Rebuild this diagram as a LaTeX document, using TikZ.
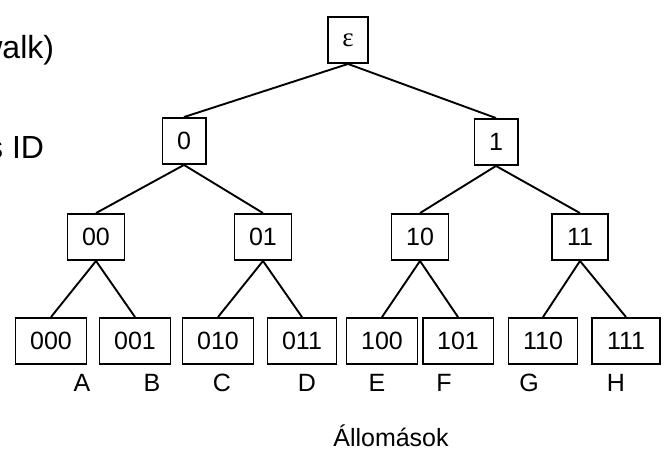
\documentclass[tikz,border=0pt]{standalone}
\usepackage{fontspec}
\setmainfont{Liberation Sans}
\newfontfamily\epsfont{Liberation Serif}
\tikzset{
  idbox/.style={draw,line width=1.9pt,minimum height=46pt,inner xsep=14.6pt,font=\fontsize{25}{30}\selectfont},
  tag/.style={anchor=base,inner sep=0pt,font=\fontsize{25}{30}\selectfont},
  side/.style={anchor=base east,inner sep=0pt,font=\fontsize{32}{38}\selectfont}
}
\begin{document}
\begin{tikzpicture}[x=1pt,y=-1pt,line width=1.9pt]
\useasboundingbox (0,0) rectangle (669,450);
\node[side] (walk) at (55,58) {walk)};
\node[side] (sid) at (45,158) {s ID};

\node[idbox] (r) at (348,40) {\epsfont\fontsize{27}{30}\selectfont ε};
\node[idbox] (n0) at (184,141) {0};
\node[idbox] (n1) at (496,142) {1};
\node[idbox] (n00) at (96,237) {00};
\node[idbox] (n01) at (263,237) {01};
\node[idbox] (n10) at (420,237) {10};
\node[idbox] (n11) at (580,237) {11};
\node[idbox] (n000) at (51,341) {000};
\node[idbox] (n001) at (135,341) {001};
\node[idbox] (n010) at (218,341) {010};
\node[idbox] (n011) at (302,341) {011};
\node[idbox] (n100) at (382,341) {100};
\node[idbox] (n101) at (458,341) {101};
\node[idbox] (n110) at (543,341) {110};
\node[idbox] (n111) at (626,341) {111};

\draw (r.south) -- (n0.north);
\draw (r.south) -- (n1.north);
\foreach \p in {0,1}{
  \draw (n\p.south) -- (n\p0.north);
  \draw (n\p.south) -- (n\p1.north);
}
\foreach \p in {00,01,10,11}{
  \draw (n\p.south) -- (n\p0.north);
  \draw (n\p.south) -- (n\p1.north);
}

\node[tag] (la) at (82,391) {A};
\node[tag] (lb) at (152,391) {B};
\node[tag] (lc) at (222,391) {C};
\node[tag] (ld) at (307,391) {D};
\node[tag] (le) at (377,391) {E};
\node[tag] (lf) at (444,391) {F};
\node[tag] (lg) at (529,391) {G};
\node[tag] (lh) at (616,391) {H};
\node[tag] (st) at (391,446) {Állomások};

\end{tikzpicture}
\end{document}
